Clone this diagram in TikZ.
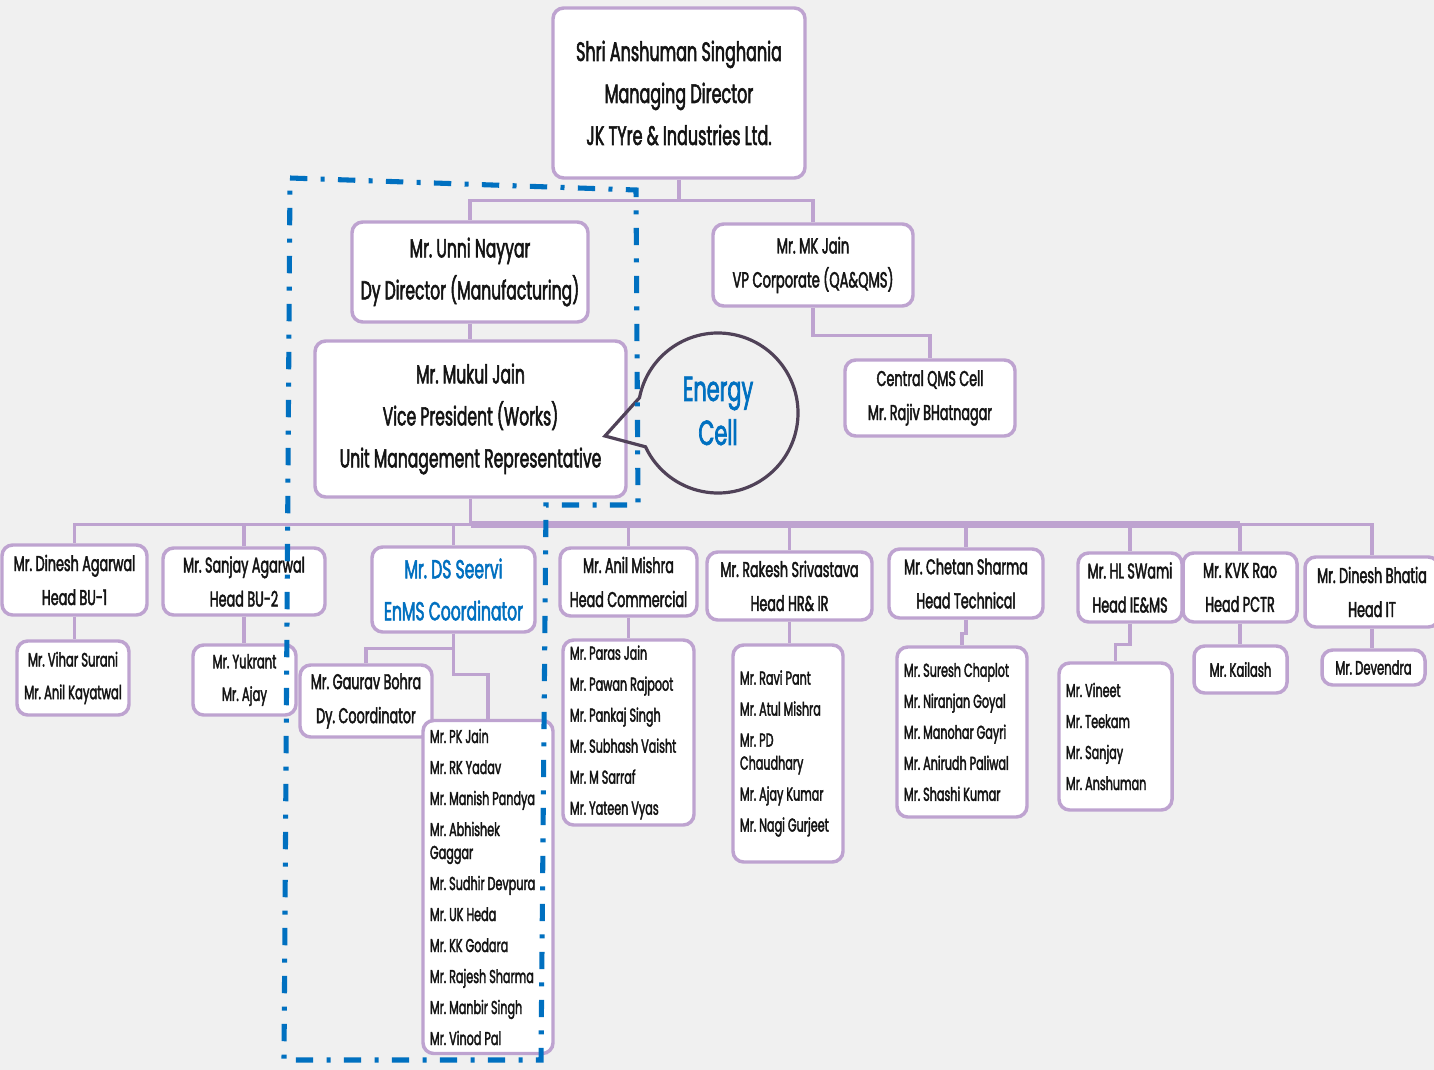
\documentclass[tikz,border=0pt]{standalone}
\usepackage{fontspec}
\setmainfont{Poppins}[FakeStretch=0.6, FakeBold=2]
\frenchspacing

\definecolor{boxline}{RGB}{190,163,208}
\definecolor{bubbleline}{RGB}{80,66,88}
\definecolor{enmsblue}{RGB}{0,112,192}
\definecolor{pagegray}{RGB}{240,240,240}
\definecolor{namegray}{RGB}{20,20,20}

\tikzset{every picture/.style={line width=0.75pt}}
\tikzset{
  orgbox/.style={draw=boxline, fill=white, line width=2.6pt, rounded corners=8pt,
    align=center, text=namegray, inner sep=0pt},
  boxsize/.style 2 args={minimum width=#1*0.75pt, minimum height=#2*0.75pt},
  listbox/.style={orgbox, align=flush left, inner xsep=5.25pt},
  orgline/.style={draw=boxline, line width=2.4pt},
  topname/.style={font=\fontsize{20}{31.5}\selectfont},
  bigname/.style={font=\fontsize{19.5}{31.5}\selectfont},
  headname/.style={font=\fontsize{16}{25.5}\selectfont},
  subname/.style={font=\fontsize{14.5}{24.5}\selectfont},
  listname/.style={font=\fontsize{14}{23.25}\selectfont},
}

\begin{document}
\begin{tikzpicture}[x=0.75pt,y=0.75pt,yscale=-1,xscale=1]
\useasboundingbox[fill=pagegray] (0,0) rectangle (1434,1070);

%Top management
\node (md) [orgbox, boxsize={252}{170}, topname] at (679,93)
  {Shri Anshuman Singhania\\Managing Director\\JK TYre \& Industries Ltd.};
\node (unni) [orgbox, boxsize={236}{100}, bigname] at (470,272)
  {Mr. Unni Nayyar\\Dy Director (Manufacturing)};
\node (mukul) [orgbox, boxsize={311}{156}, bigname] at (470.5,419)
  {Mr. Mukul Jain\\Vice President (Works)\\Unit Management Representative};
\node (mkjain) [orgbox, boxsize={200}{82}, font=\fontsize{16.4}{25.5}\selectfont] at (813,265)
  {Mr. MK Jain\\VP Corporate (QA\&QMS)};
\node (qms) [orgbox, boxsize={170}{76}, headname] at (930,398)
  {Central QMS Cell\\Mr. Rajiv BHatnagar};

%Energy cell bubble
\node (energy) [align=center, text=enmsblue, font=\fontsize{26}{33}\selectfont] at (718,411)
  {Energy\\Cell};
\draw [bubbleline, line width=2.4pt] (605,436) -- ([shift={(191:80)}]718,413)
  arc [start angle=191, end angle=515, radius=80] -- cycle;

%Heads
\node (dinesh) [orgbox, boxsize={145}{70}, headname] at (74.5,580)
  {Mr. Dinesh Agarwal\\Head BU-1};
\node (sanjay) [orgbox, boxsize={162}{67}, headname] at (244,581.5)
  {Mr. Sanjay Agarwal\\Head BU-2};
\node (seervi) [orgbox, boxsize={163}{85}, text=enmsblue, font=\fontsize{19.5}{31.5}\selectfont] at (453.5,589.5)
  {Mr. DS Seervi\\EnMS Coordinator};
\node (anil) [orgbox, boxsize={137}{68}, headname] at (628.5,582)
  {Mr. Anil Mishra\\Head Commercial};
\node (rakesh) [orgbox, boxsize={165}{68}, headname] at (789.5,586)
  {Mr. Rakesh Srivastava\\Head HR\& IR};
\node (chetan) [orgbox, boxsize={154}{69}, headname] at (966,583.5)
  {Mr. Chetan Sharma\\Head Technical};
\node (hlswami) [orgbox, boxsize={104}{69}, headname] at (1130,587.5)
  {Mr. HL SWami\\Head IE\&MS};
\node (kvk) [orgbox, boxsize={114}{69}, headname] at (1240,587.5)
  {Mr. KVK Rao\\Head PCTR};
\node (bhatia) [orgbox, boxsize={134}{70}, headname] at (1372,592)
  {Mr. Dinesh Bhatia\\Head IT};

%Team members
\node (vihar) [orgbox, boxsize={112}{74}, subname] at (73,678)
  {Mr. Vihar Surani\\Mr. Anil Kayatwal};
\node (yukrant) [orgbox, boxsize={103}{70}, subname] at (244.5,680)
  {Mr. Yukrant\\Mr. Ajay};
\node (gaurav) [orgbox, boxsize={132}{72}, headname] at (366,701)
  {Mr. Gaurav Bohra\\Dy. Coordinator};
\node (pkjain) [listbox, text width=87pt, minimum height=333*0.75pt, listname] at (488,887)
  {Mr. PK Jain\\Mr. RK Yadav\\Mr. Manish Pandya\\Mr. Abhishek\\[-6pt]Gaggar\\Mr. Sudhir Devpura\\
   Mr. UK Heda\\Mr. KK Godara\\Mr. Rajesh Sharma\\Mr. Manbir Singh\\Mr. Vinod Pal};
\node (paras) [listbox, text width=87.75pt, minimum height=185*0.75pt, listname] at (628.5,732.5)
  {Mr. Paras Jain\\Mr. Pawan Rajpoot\\Mr. Pankaj Singh\\Mr. Subhash Vaisht\\Mr. M Sarraf\\Mr. Yateen Vyas};
\node (ravi) [listbox, text width=72pt, minimum height=217*0.75pt, listname] at (788,753.5)
  {Mr. Ravi Pant\\Mr. Atul Mishra\\Mr. PD\\[-6pt]Chaudhary\\Mr. Ajay Kumar\\Mr. Nagi Gurjeet};
\node (suresh) [listbox, text width=87pt, minimum height=170*0.75pt, listname] at (962,732)
  {Mr. Suresh Chaplot\\Mr. Niranjan Goyal\\Mr. Manohar Gayri\\Mr. Anirudh Paliwal\\Mr. Shashi Kumar};
\node (vineet) [listbox, text width=74.25pt, minimum height=147*0.75pt, listname] at (1115.5,736.5)
  {Mr. Vineet\\Mr. Teekam\\Mr. Sanjay\\Mr. Anshuman};
\node (kailash) [orgbox, boxsize={93}{47}, subname] at (1240.5,669.5) {Mr. Kailash};
\node (devendra) [orgbox, boxsize={103}{35}, subname] at (1373.5,667.5) {Mr. Devendra};

%Reporting lines
\draw [orgline] (md.south) -- ++(0,21) coordinate (mdsplit);
\draw [orgline] (mdsplit) -| (unni.north);
\draw [orgline] (mdsplit) -| (mkjain.north);
\draw [orgline] (unni.south) -- (unni.south |- mukul.north);
\draw [orgline] (mkjain.south) -- ++(0,28) -| (qms.north);
\draw [orgline] (mukul.south) -- ++(0,26) coordinate (bus);
\foreach \h in {dinesh,sanjay,seervi,anil,rakesh,chetan,hlswami,kvk,bhatia}
  \draw [orgline] (bus) -| (\h.north);
\draw [orgline, line width=5pt] (bus) -- (bus -| kvk.north);
\foreach \a/\b in {dinesh/vihar,sanjay/yukrant,anil/paras,rakesh/ravi,kvk/kailash,bhatia/devendra}
  \draw [orgline] (\a.south) -- (\a.south |- \b.north);
\draw [orgline] (seervi.south) -- ++(0,15) -| (gaurav.north);
\draw [orgline] (seervi.south) -- ++(0,41) -| (pkjain.north);
\draw [orgline] (chetan.south) -- ++(0,14) -| (suresh.north);
\draw [orgline] (hlswami.south) -- ++(0,21) -| (vineet.north);

%EnMS team frame
\draw [enmsblue, line width=3.8pt, dash pattern=on 13pt off 10pt on 3pt off 10pt]
  (290,178) -- (636,190) -- (638,505) -- (546,505) -- (541,1060) -- (284,1060) -- cycle;
\end{tikzpicture}
\end{document}
